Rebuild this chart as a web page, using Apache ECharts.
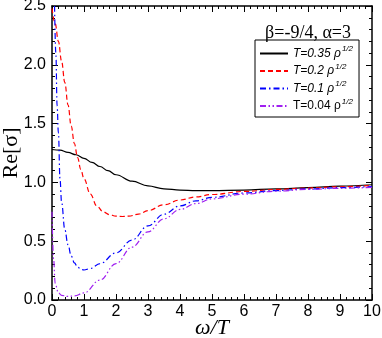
<!DOCTYPE html>
<html>
<head>
<meta charset="utf-8">
<script src="https://cdn.jsdelivr.net/npm/echarts@6/dist/echarts.min.js"></script>
<style>
  html, body { margin: 0; padding: 0; background: #fff; }
  #chart { width: 382px; height: 338px; }
</style>
</head>
<body>
<div id="chart"></div>
<script>
// values
const names = ['T=0.35', 'T=0.2', 'T=0.1', 'T=0.04'];

const xBlack = [0, 0.25, 0.5, 0.75, 1, 1.25, 1.5, 1.75, 2, 2.5, 3, 3.5, 4, 4.5, 5, 6, 7, 8, 9, 10];
const yBlack = [1.28, 1.275, 1.255, 1.235, 1.205, 1.17, 1.135, 1.1, 1.065, 1.01, 0.97, 0.945, 0.935, 0.93, 0.93, 0.935, 0.945, 0.955, 0.968, 0.98];

const xRed = [0, 0.1, 0.2, 0.3, 0.4, 0.5, 0.6, 0.7, 0.8, 0.9, 1, 1.2, 1.4, 1.6, 1.8, 2, 2.2, 2.4, 2.7, 3, 3.5, 4, 4.5, 5, 6, 7, 8, 9, 10];
const yRed = [2.48, 2.35, 2.2, 2.03, 1.85, 1.66, 1.48, 1.33, 1.21, 1.11, 1.03, 0.9, 0.8, 0.75, 0.725, 0.713, 0.71, 0.713, 0.73, 0.76, 0.81, 0.85, 0.877, 0.897, 0.923, 0.94, 0.952, 0.963, 0.975];

const xBlue = [0.08, 0.12, 0.16, 0.2, 0.25, 0.3, 0.4, 0.5, 0.6, 0.7, 0.8, 0.9, 1, 1.2, 1.5, 2, 2.5, 3, 3.5, 4, 4.5, 5, 6, 7, 8, 9, 10];
const yBlue = [2.5, 2.1, 1.65, 1.42, 1.03, 0.83, 0.6, 0.47, 0.375, 0.315, 0.28, 0.262, 0.255, 0.268, 0.31, 0.4, 0.51, 0.63, 0.73, 0.8, 0.843, 0.873, 0.91, 0.93, 0.945, 0.955, 0.965];

const xPurple = [0, 0.05, 0.1, 0.2, 0.3, 0.5, 0.7, 1, 1.5, 2, 2.5, 3, 3.5, 4, 4.5, 5, 6, 7, 8, 9, 10];
const yPurple = [0.75, 0.35, 0.14, 0.06, 0.04, 0.03, 0.035, 0.06, 0.17, 0.31, 0.45, 0.58, 0.69, 0.77, 0.82, 0.86, 0.9, 0.925, 0.94, 0.95, 0.958];

const pairs = (xs, ys) => xs.map((x, i) => [x, ys[i]]);

const chart = echarts.init(document.getElementById('chart'));

const tickX = {
    type: 'value', min: 0, max: 10, interval: 1,
    axisLine: { show: true, onZero: false, lineStyle: { color: '#000', width: 1.5 } },
    axisTick: { show: true, inside: true, length: 6, lineStyle: { color: '#000', width: 1 } },
    minorTick: { show: true, splitNumber: 5, length: 3, lineStyle: { color: '#000', width: 1 } },
    splitLine: { show: false }
};
const tickY = {
    type: 'value', min: 0, max: 2.5, interval: 0.5,
    axisLine: { show: true, onZero: false, lineStyle: { color: '#000', width: 1.5 } },
    axisTick: { show: true, inside: true, length: 6, lineStyle: { color: '#000', width: 1 } },
    minorTick: { show: true, splitNumber: 5, length: 3, lineStyle: { color: '#000', width: 1 } },
    splitLine: { show: false }
};

function line(name, xs, ys, color, type) {
    return {
        name: name,
        type: 'line',
        data: pairs(xs, ys),
        showSymbol: false,
        symbol: 'none',
        smooth: 0.4,
        smoothMonotone: 'x',
        lineStyle: { color: color, width: 1.2, type: type },
        itemStyle: { color: color }
    };
}

chart.setOption({
    animation: false,
    backgroundColor: '#fff',
    grid: { left: 52, right: 10, top: 6, bottom: 38, outerBoundsMode: 'none', containLabel: false },
    title: {
        text: 'β=-9/4, α=3',
        right: 26, top: 19,
        textStyle: { fontFamily: 'Liberation Serif', fontSize: 18, fontWeight: 'normal', color: '#000' }
    },
    legend: {
        show: true,
        data: names,
        orient: 'vertical',
        left: 255, top: 40,
        padding: [5, 6, 5, 4],
        itemGap: 3,
        itemWidth: 28,
        itemHeight: 12,
        borderColor: '#000',
        borderWidth: 1,
        itemStyle: { opacity: 0 },
        formatter: function (name) {
            const style = name === 'T=0.04' ? 'n' : 'i';
            return '{' + style + '|' + name + ' ρ}{s|1/2}';
        },
        textStyle: {
            color: '#000',
            rich: {
                i: { fontFamily: 'Liberation Sans', fontStyle: 'italic', fontSize: 12, color: '#000' },
                n: { fontFamily: 'Liberation Sans', fontSize: 12, color: '#000' },
                s: { fontFamily: 'Liberation Sans', fontStyle: 'italic', fontSize: 8, color: '#000', padding: [0, 0, 9, 1] }
            }
        }
    },
    xAxis: [
        Object.assign({}, tickX, {
            position: 'bottom',
            name: 'ω/T',
            nameLocation: 'middle',
            nameGap: 17,
            nameMoveOverlap: false,
            nameTextStyle: { fontFamily: 'Liberation Serif', fontStyle: 'italic', fontSize: 22, color: '#000' },
            axisLabel: { margin: 4, fontFamily: 'Liberation Sans', fontSize: 16, color: '#000' }
        }),
        Object.assign({}, tickX, { position: 'top', axisLabel: { show: false } })
    ],
    yAxis: [
        Object.assign({}, tickY, {
            position: 'left',
            name: 'Re[σ]',
            nameLocation: 'middle',
            nameGap: 30,
            nameMoveOverlap: false,
            nameTextStyle: { fontFamily: 'Liberation Serif', fontSize: 22, color: '#000' },
            axisLabel: {
                margin: 6, fontFamily: 'Liberation Sans', fontSize: 16, color: '#000',
                formatter: v => v.toFixed(1)
            }
        }),
        Object.assign({}, tickY, { position: 'right', axisLabel: { show: false } })
    ],
    series: [
        line(names[0], xBlack, yBlack, '#000000', 'solid'),
        line(names[1], xRed, yRed, '#ff0000', [5, 3]),
        line(names[2], xBlue, yBlue, '#0000ff', [6, 3, 1.5, 3]),
        line(names[3], xPurple, yPurple, '#a020f0', [6, 2.5, 1.5, 2.5, 1.5, 2.5])
    ]
});
</script>
</body>
</html>
